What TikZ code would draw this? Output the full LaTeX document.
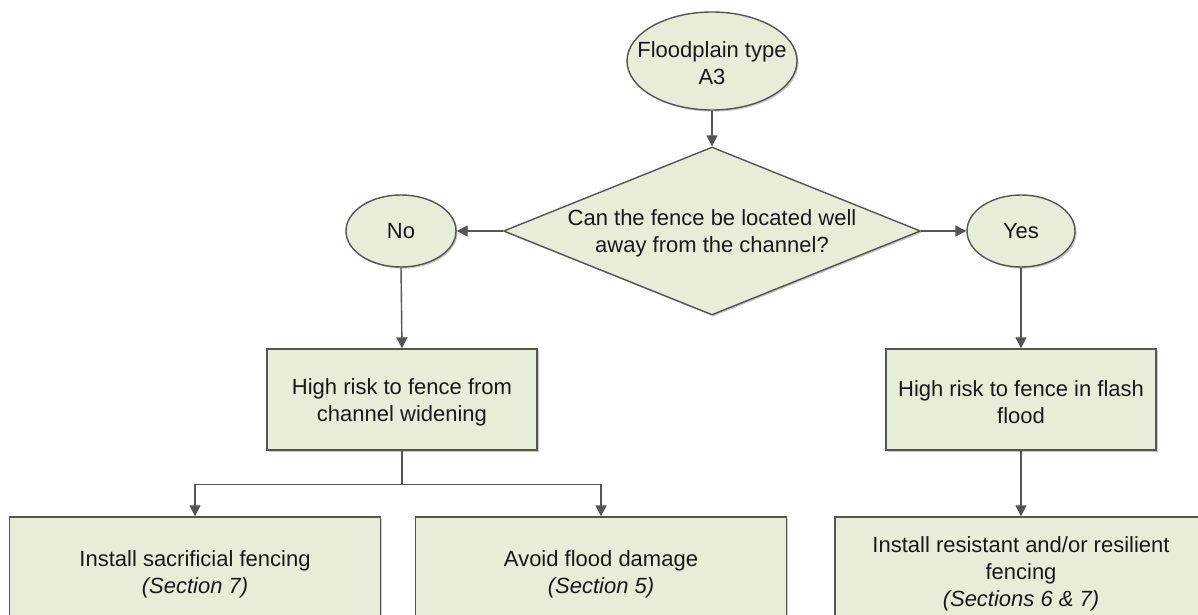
\documentclass[tikz,border=0pt]{standalone}
\usepackage{fontspec}
\setmainfont{Liberation Sans}
\usetikzlibrary{arrows.meta,shapes.geometric,shadows}
\definecolor{boxfill}{RGB}{231,237,216}
\definecolor{edgecol}{RGB}{85,85,85}
\definecolor{inkcol}{RGB}{25,25,25}
\begin{document}
\begin{tikzpicture}[x=1pt,y=-1pt,
  shapebase/.style={draw=edgecol, line width=1.4pt, fill=boxfill, inner sep=0pt,
    drop shadow={shadow xshift=1.6pt, shadow yshift=-1.6pt, fill=black, opacity=0.22}},
  ovalnode/.style={shapebase, ellipse},
  boxnode/.style={shapebase, rectangle},
  decnode/.style={shapebase, diamond},
  txt/.style={text=inkcol, align=center, inner sep=0pt, font=\fontsize{22}{27}\selectfont},
  conn/.style={draw=edgecol, line width=1.4pt, -{Triangle[length=11pt,width=11pt]}},
  plainline/.style={draw=edgecol, line width=1.4pt}
]
\useasboundingbox (0,0) rectangle (1198,615);
\clip (0,0) rectangle (1198,615);
\fill[white] (0,0) rectangle (1198,615);

% shapes
\node[ovalnode, minimum width=170pt, minimum height=98pt] (start) at (712,61) {};
\node[txt] (startT) at (712,63) {Floodplain type\\A3};

\node[decnode, minimum width=417pt, minimum height=168pt] (q) at (712,231) {};
\node[txt] (qT) at (712,233) {Can the fence be located well\\away from the channel?};

\node[ovalnode, minimum width=110pt, minimum height=72pt] (no) at (401,231) {};
\node[txt] (noT) at (401,231) {No};

\node[ovalnode, minimum width=108pt, minimum height=72pt] (yes) at (1021,231) {};
\node[txt] (yesT) at (1021,231) {Yes};

\node[boxnode, minimum width=270pt, minimum height=101pt] (hr1) at (402,399.5) {};
\node[txt] (hr1T) at (402,402) {High risk to fence from\\channel widening};

\node[boxnode, minimum width=270pt, minimum height=101pt] (hr2) at (1021,399.5) {};
\node[txt] (hr2T) at (1021,402) {High risk to fence in flash\\flood};

\node[boxnode, minimum width=371pt, minimum height=110pt] (b1) at (195,572) {};
\node[txt] (b1T) at (195,574) {Install sacrificial fencing\\\textit{(Section 7)}};

\node[boxnode, minimum width=371pt, minimum height=110pt] (b2) at (601,572) {};
\node[txt] (b2T) at (601,574) {Avoid flood damage\\\textit{(Section 5)}};

\node[boxnode, minimum width=372pt, minimum height=110pt] (b3) at (1021,572) {};
\node[txt] (b3T) at (1021,574) {Install resistant and/or resilient\\fencing\\\textit{(Sections 6 \& 7)}};

% connectors
\draw[conn] (start.south) -- (q.north);
\draw[conn] (q.west) -- (no.east);
\draw[conn] (q.east) -- (yes.west);
\draw[conn] (no.south) -- (hr1.north);
\draw[conn] (yes.south) -- (hr2.north);
\draw[plainline] (hr1.south) -- ++(0,34) coordinate (split);
\draw[conn] (split) -| (b1.north);
\draw[conn] (split) -| (b2.north);
\draw[conn] (hr2.south) -- (b3.north);
\end{tikzpicture}
\end{document}
